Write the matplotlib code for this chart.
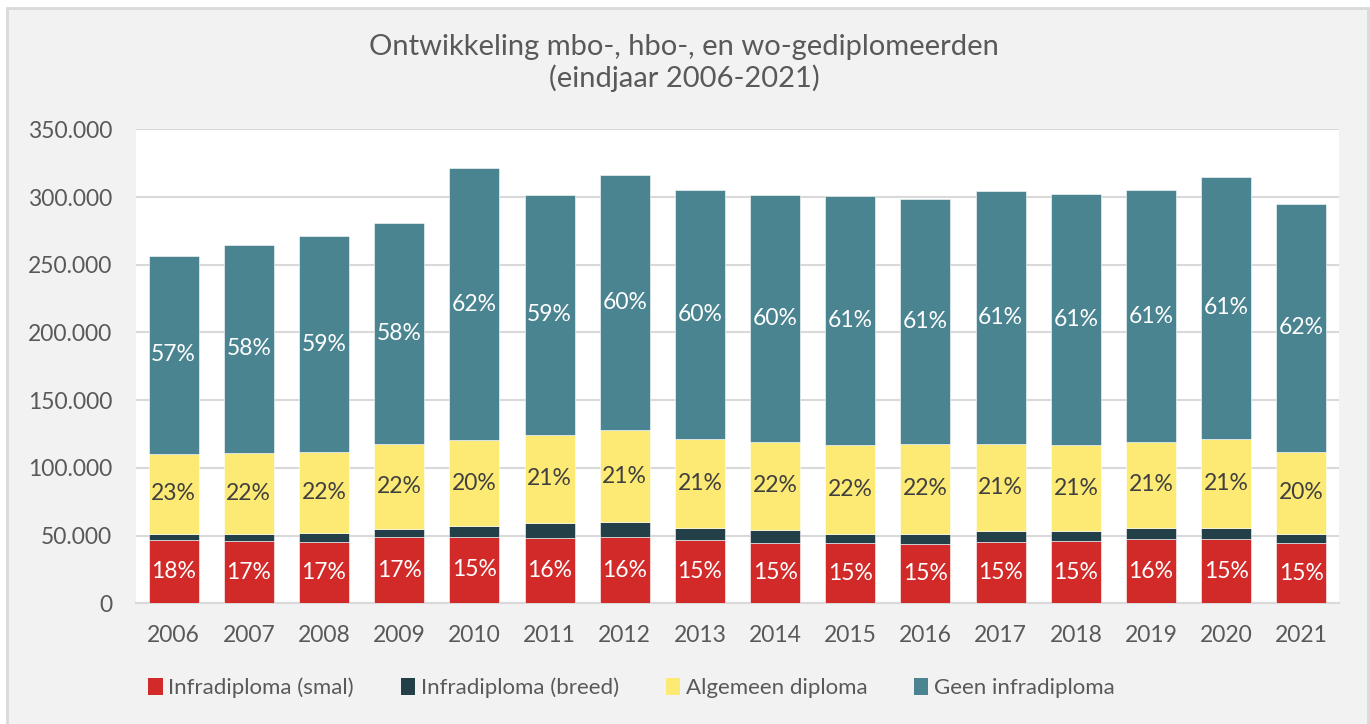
import numpy as np
import matplotlib.pyplot as plt
from matplotlib.patches import Rectangle, Patch
from matplotlib.ticker import FuncFormatter, MultipleLocator

plt.rcParams['font.family'] = ['Lato', 'DejaVu Sans']

years = [str(y) for y in range(2006, 2022)]
# aantallen (x 1000)
smal = [46.5, 45.8, 45.3, 48.7, 49.2, 48.2, 48.7, 46.5, 44.8, 44.3, 43.8, 45.3, 45.8, 47.7, 47.3, 44.3]
breed = [4.9, 5.6, 6.6, 6.4, 7.7, 11.3, 11.3, 9.3, 9.1, 7.1, 7.6, 8.1, 7.6, 8.1, 8.5, 7.1]
algemeen = [59.1, 59.6, 59.6, 62.3, 63.5, 65.0, 67.8, 65.3, 65.5, 65.3, 66.0, 64.5, 63.3, 63.3, 65.8, 60.6]
geen = [146.1, 153.8, 159.9, 163.6, 201.1, 177.3, 188.8, 183.9, 182.4, 184.3, 181.2, 186.4, 185.4, 185.9, 193.0, 182.7]

lbl_smal = [18, 17, 17, 17, 15, 16, 16, 15, 15, 15, 15, 15, 15, 16, 15, 15]
lbl_alg = [23, 22, 22, 22, 20, 21, 21, 21, 22, 22, 22, 21, 21, 21, 21, 20]
lbl_geen = [57, 58, 59, 58, 62, 59, 60, 60, 60, 61, 61, 61, 61, 61, 61, 62]

series = ["Infradiploma (smal)", "Infradiploma (breed)", "Algemeen diploma", "Geen infradiploma"]
colors = ["#D12A29", "#233F47", "#FCEA74", "#4A8491"]
txt = "#595959"

fig = plt.figure(figsize=(13.7, 7.24), dpi=100, facecolor="white")
fig.patches.append(Rectangle((7 / 1370, -0.05), 1361 / 1370, 1.05 - 8 / 724,
                             transform=fig.transFigure, facecolor="#F2F2F2",
                             edgecolor="#D9D9D9", linewidth=2, zorder=-10))

ax = fig.add_axes([136 / 1370, 1 - 603.3 / 724, 1203 / 1370, (603.3 - 129.3) / 724])
ax.set_facecolor("white")

x = np.arange(len(years))
data = [np.array(smal) * 1000, np.array(breed) * 1000,
        np.array(algemeen) * 1000, np.array(geen) * 1000]
bottom = np.zeros(len(years))
bars = []
for vals, c, name in zip(data, colors, series):
    b = ax.bar(x, vals, 0.665, bottom=bottom, color=c, label=name,
               edgecolor="white", linewidth=0.4, zorder=3)
    bars.append((b, bottom.copy(), vals))
    bottom += vals

def put_labels(idx, labels, color):
    b, bot, vals = bars[idx]
    for xi, bt, v, l in zip(x, bot, vals, labels):
        ax.text(xi, bt + v / 2, f"{l}%", ha="center", va="center",
                color=color, fontsize=16.5, zorder=4)

put_labels(0, lbl_smal, "white")
put_labels(2, lbl_alg, "#404040")
put_labels(3, lbl_geen, "white")

ax.set_xlim(-0.5, len(years) - 0.5)
ax.set_ylim(0, 350000)
ax.yaxis.set_major_locator(MultipleLocator(50000))
ax.yaxis.set_major_formatter(FuncFormatter(lambda v, p: f"{int(v):,}".replace(",", ".")))
ax.set_xticks(x)
ax.set_xticklabels(years)
ax.grid(axis="y", color="#D9D9D9", linewidth=1.5, zorder=0)
ax.set_axisbelow(True)
for s in ["top", "right", "left"]:
    ax.spines[s].set_visible(False)
ax.spines["bottom"].set_color("#D9D9D9")
ax.spines["bottom"].set_linewidth(1.5)
ax.tick_params(axis="both", length=0, labelsize=16.5, colors=txt)
ax.tick_params(axis="y", pad=17)
ax.tick_params(axis="x", pad=15.5)

fig.text(0.4995, 1 - 63 / 724, "Ontwikkeling mbo-, hbo-, en wo-gediplomeerden\n(eindjaar 2006-2021)",
         ha="center", va="center", fontsize=21, color=txt, linespacing=1.2)

handles = [Patch(facecolor=c) for c in colors]
fig.legend(handles, series, loc="center", bbox_to_anchor=(631.5 / 1370, 1 - 688 / 724),
           ncol=4, frameon=False, fontsize=16, labelcolor=txt,
           handlelength=0.65, handleheight=0.8, handletextpad=0.25, columnspacing=2.1)

fig.savefig("out.png", dpi=100, facecolor=fig.get_facecolor())
